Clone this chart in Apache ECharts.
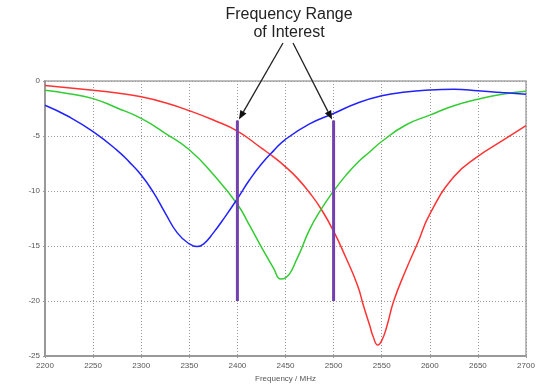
<!DOCTYPE html>
<html><head><meta charset="utf-8">
<script src="https://cdn.jsdelivr.net/npm/echarts@6/dist/echarts.min.js"></script>
<style>html,body{margin:0;padding:0;background:#fff}#c{width:550px;height:388px}</style>
</head><body><div id="c"></div>
<script>
// ---- data ----
const xTicks = [2200, 2250, 2300, 2350, 2400, 2450, 2500, 2550, 2600, 2650, 2700];
const yTicks = [0, -5, -10, -15, -20, -25];

const blueFreq = [2200, 2225, 2250, 2275, 2287.5, 2300, 2312.5, 2325, 2337.5, 2350, 2358, 2365, 2375, 2387.5, 2400, 2412.5, 2425, 2437.5, 2450, 2475, 2500, 2525, 2550, 2575, 2600, 2625, 2650, 2675, 2700];
const blueVal  = [-2.2, -3.25, -4.6, -6.3, -7.35, -8.55, -10.1, -12.0, -13.8, -14.8, -15.05, -14.8, -13.8, -12.3, -10.7, -9.0, -7.55, -6.35, -5.3, -3.9, -2.95, -2.0, -1.35, -1.0, -0.82, -0.76, -0.88, -1.05, -1.2];

const greenFreq = [2200, 2225, 2250, 2275, 2300, 2325, 2350, 2375, 2400, 2412.5, 2425, 2437.5, 2445, 2450, 2462.5, 2475, 2487.5, 2500, 2512.5, 2525, 2537.5, 2550, 2575, 2600, 2625, 2650, 2675, 2700];
const greenVal  = [-0.85, -1.15, -1.6, -2.45, -3.4, -4.75, -6.25, -8.5, -11.2, -13.1, -15.1, -17.0, -18.0, -17.9, -16.05, -13.5, -11.6, -10.0, -8.6, -7.4, -6.45, -5.5, -4.0, -3.1, -2.25, -1.65, -1.2, -0.93];

const redFreq = [2200, 2250, 2275, 2300, 2325, 2350, 2375, 2400, 2425, 2437.5, 2450, 2462.5, 2475, 2487.5, 2500, 2512.5, 2525, 2531, 2537.5, 2541, 2546, 2550, 2555, 2562.5, 2575, 2587.5, 2600, 2625, 2650, 2675, 2700];
const redVal  = [-0.4, -0.84, -1.1, -1.44, -1.98, -2.7, -3.55, -4.55, -6.1, -6.9, -7.8, -8.85, -10.15, -11.7, -13.65, -16.0, -18.6, -20.4, -22.2, -23.2, -24.0, -23.6, -22.4, -20.0, -17.2, -14.7, -12.1, -8.7, -6.85, -5.45, -4.05];

const rangeFreq = [2400, 2500];
const rangeTop = -3.6;
const rangeBottom = -20;

const annotation = ['Frequency Range', 'of Interest'];
const xName = 'Frequency / MHz';

// ---- chart ----
const zip = (a, b) => a.map((v, i) => [v, b[i]]);
const chart = echarts.init(document.getElementById('c'), null, {renderer: 'canvas'});
const lineS = (name, f, v, color) => ({
  name, type: 'line', data: zip(f, v), smooth: 0.5, showSymbol: false,
  lineStyle: {color, width: 1.5}, itemStyle: {color}, z: 3
});
const series = [
  lineS('red', redFreq, redVal, '#ff3333'),
  lineS('green', greenFreq, greenVal, '#33cc33'),
  lineS('blue', blueFreq, blueVal, '#2222ff')
];
rangeFreq.forEach((f, i) => series.push({
  name: 'range' + i, type: 'line', showSymbol: false,
  data: [[f, rangeTop], [f, rangeBottom]],
  lineStyle: {color: '#7340b0', width: 3}, z: 4
}));

const labelStyle = {color: '#555', fontSize: 8, fontFamily: 'Liberation Sans, Arial, sans-serif'};
chart.setOption({
  animation: false,
  backgroundColor: '#fff',
  grid: {left: 45, right: 24, top: 81, bottom: 31, show: true, borderColor: '#a8a8a8', borderWidth: 1.5, backgroundColor: 'transparent'},
  xAxis: {
    type: 'value', min: xTicks[0], max: xTicks[xTicks.length - 1], interval: 50,
    name: xName, nameLocation: 'middle', nameGap: 17,
    nameTextStyle: labelStyle,
    axisLine: {show: true, onZero: false, lineStyle: {color: '#999', width: 2}},
    axisTick: {show: true, length: 2, lineStyle: {color: '#999'}},
    axisLabel: Object.assign({margin: 6, formatter: v => String(v)}, labelStyle),
    splitLine: {show: true, lineStyle: {color: '#999', type: [1, 2], width: 1}}
  },
  yAxis: {
    type: 'value', min: yTicks[yTicks.length - 1], max: yTicks[0], interval: 5,
    axisLine: {show: true, onZero: false, lineStyle: {color: '#999', width: 2}},
    axisTick: {show: true, length: 2, lineStyle: {color: '#999'}},
    axisLabel: Object.assign({margin: 5, formatter: v => String(v)}, labelStyle),
    splitLine: {show: true, lineStyle: {color: '#999', type: [1, 2], width: 1}}
  },
  series
});

// annotation text and arrows
const starts = [[283, 43], [293, 43]];
const elements = [];
elements.push({
  type: 'text', x: 289, y: 6,
  style: {text: annotation.join('\n'), fill: '#222', font: '16px "Liberation Sans", Arial, sans-serif', lineHeight: 18, align: 'center'}
});
rangeFreq.forEach((f, i) => {
  const tip = chart.convertToPixel({gridIndex: 0}, [f, rangeTop]);
  tip[0] += (i === 0 ? 1.5 : -1.5);
  tip[1] -= 1;
  const s = starts[i];
  const dx = tip[0] - s[0], dy = tip[1] - s[1];
  const L = Math.hypot(dx, dy), ux = dx / L, uy = dy / L;
  const hl = 9, hw = 3.5;
  const bx = tip[0] - ux * hl, by = tip[1] - uy * hl;
  elements.push({type: 'line', shape: {x1: s[0], y1: s[1], x2: bx, y2: by}, style: {stroke: '#222', lineWidth: 1.3}, z: 10});
  elements.push({type: 'polygon', shape: {points: [tip, [bx - uy * hw, by + ux * hw], [bx + uy * hw, by - ux * hw]]}, style: {fill: '#111'}, z: 10});
});
chart.setOption({graphic: {elements}});
</script>
</body></html>
